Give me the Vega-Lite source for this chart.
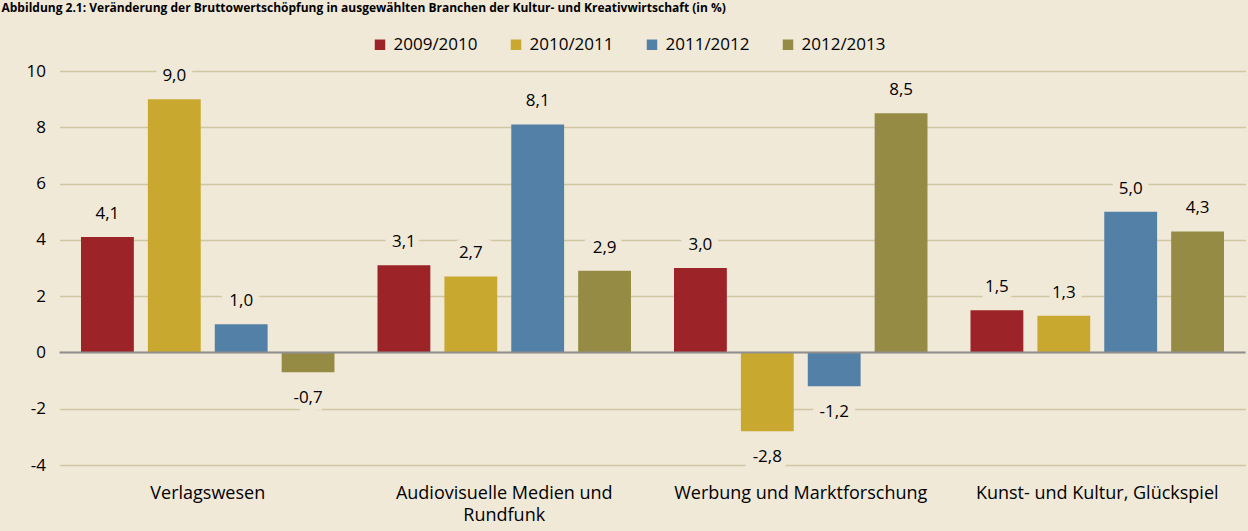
{
  "$schema": "https://vega.github.io/schema/vega-lite/v6.json",
  "autosize": "none",
  "width": 1186,
  "height": 394,
  "padding": {"left": 59.5, "top": 71, "right": 2.5, "bottom": 66},
  "background": "#F0E9D8",
  "title": {
    "text": "Abbildung 2.1: Veränderung der Bruttowertschöpfung in ausgewählten Branchen der Kultur- und Kreativwirtschaft (in %)",
    "anchor": "start",
    "frame": "group",
    "dx": -58,
    "offset": 12,
    "font": "Open Sans",
    "fontSize": 12,
    "fontWeight": "bold",
    "color": "#000000",
    "baseline": "alphabetic"
  },
  "config": {
    "locale": {"number": {"decimal": ",", "thousands": ".", "grouping": [3], "currency": ["", " €"], "minus": "-"}},
    "view": {"stroke": null},
    "font": "Open Sans"
  },
  "data": {
    "values": [
      {"branche": "Verlagswesen", "periode": "2009/2010", "value": 4.1},
      {"branche": "Verlagswesen", "periode": "2010/2011", "value": 9.0},
      {"branche": "Verlagswesen", "periode": "2011/2012", "value": 1.0},
      {"branche": "Verlagswesen", "periode": "2012/2013", "value": -0.7},
      {"branche": "Audiovisuelle Medien und Rundfunk", "periode": "2009/2010", "value": 3.1},
      {"branche": "Audiovisuelle Medien und Rundfunk", "periode": "2010/2011", "value": 2.7},
      {"branche": "Audiovisuelle Medien und Rundfunk", "periode": "2011/2012", "value": 8.1},
      {"branche": "Audiovisuelle Medien und Rundfunk", "periode": "2012/2013", "value": 2.9},
      {"branche": "Werbung und Marktforschung", "periode": "2009/2010", "value": 3.0},
      {"branche": "Werbung und Marktforschung", "periode": "2010/2011", "value": -2.8},
      {"branche": "Werbung und Marktforschung", "periode": "2011/2012", "value": -1.2},
      {"branche": "Werbung und Marktforschung", "periode": "2012/2013", "value": 8.5},
      {"branche": "Kunst- und Kultur, Glückspiel", "periode": "2009/2010", "value": 1.5},
      {"branche": "Kunst- und Kultur, Glückspiel", "periode": "2010/2011", "value": 1.3},
      {"branche": "Kunst- und Kultur, Glückspiel", "periode": "2011/2012", "value": 5.0},
      {"branche": "Kunst- und Kultur, Glückspiel", "periode": "2012/2013", "value": 4.3}
    ]
  },
  "encoding": {
    "x": {
      "field": "branche",
      "type": "nominal",
      "sort": null,
      "scale": {"paddingInner": 0.145, "paddingOuter": 0.0725},
      "axis": {
        "title": null,
        "orient": "bottom",
        "labelAngle": 0,
        "ticks": false,
        "domain": false,
        "labelPadding": 19,
        "labelFontSize": 18,
        "labelColor": "#000000",
        "labelLineHeight": 22,
        "labelLimit": 400,
        "labelBaseline": "top",
        "labelExpr": "datum.label == 'Audiovisuelle Medien und Rundfunk' ? ['Audiovisuelle Medien und', 'Rundfunk'] : datum.label"
      }
    },
    "xOffset": {
      "field": "periode",
      "type": "nominal",
      "scale": {"paddingInner": 0.21, "paddingOuter": 0}
    },
    "y": {
      "field": "value",
      "type": "quantitative",
      "scale": {"domain": [-4, 10], "nice": false, "zero": false},
      "axis": {
        "title": null,
        "values": [-4, -2, 0, 2, 4, 6, 8, 10],
        "ticks": false,
        "domain": false,
        "labelPadding": 14,
        "labelFontSize": 17,
        "labelColor": "#000000",
        "gridColor": "#CFC6A2",
        "gridWidth": 1.5,
        "gridOpacity": 1
      }
    }
  },
  "layer": [
    {
      "mark": {"type": "bar"},
      "encoding": {
        "color": {
          "field": "periode",
          "type": "nominal",
          "scale": {
            "domain": ["2009/2010", "2010/2011", "2011/2012", "2012/2013"],
            "range": ["#9C2327", "#C9A82F", "#5380A6", "#958B45"]
          },
          "legend": {
            "title": null,
            "orient": "none",
            "legendX": 312,
            "legendY": -35,
            "direction": "horizontal",
            "columns": 4,
            "columnPadding": 30,
            "symbolType": "square",
            "symbolSize": 110,
            "symbolStrokeWidth": 0,
            "symbolOpacity": 1,
            "labelFontSize": 17,
            "labelColor": "#000000",
            "labelOffset": 5
          }
        }
      }
    },
    {
      "data": {"values": [{"z": 0}]},
      "mark": {"type": "rule", "color": "#8F8F8F", "strokeWidth": 2},
      "encoding": {
        "y": {"field": "z", "type": "quantitative"},
        "x": {"value": 0},
        "x2": {"value": 1186},
        "xOffset": null
      }
    },
    {
      "mark": {
        "type": "text",
        "fontSize": 17,
        "baseline": "middle",
        "stroke": "#F0E9D8",
        "strokeWidth": 14,
        "strokeJoin": "miter",
        "fill": "#F0E9D8",
        "dy": {"expr": "datum.value < 0 ? 26 : -23"}
      },
      "encoding": {
        "text": {"field": "value", "type": "quantitative", "format": ".1f"}
      }
    },
    {
      "mark": {
        "type": "text",
        "fontSize": 17,
        "baseline": "middle",
        "color": "#000000",
        "dy": {"expr": "datum.value < 0 ? 26 : -23"}
      },
      "encoding": {
        "text": {"field": "value", "type": "quantitative", "format": ".1f"}
      }
    }
  ]
}
